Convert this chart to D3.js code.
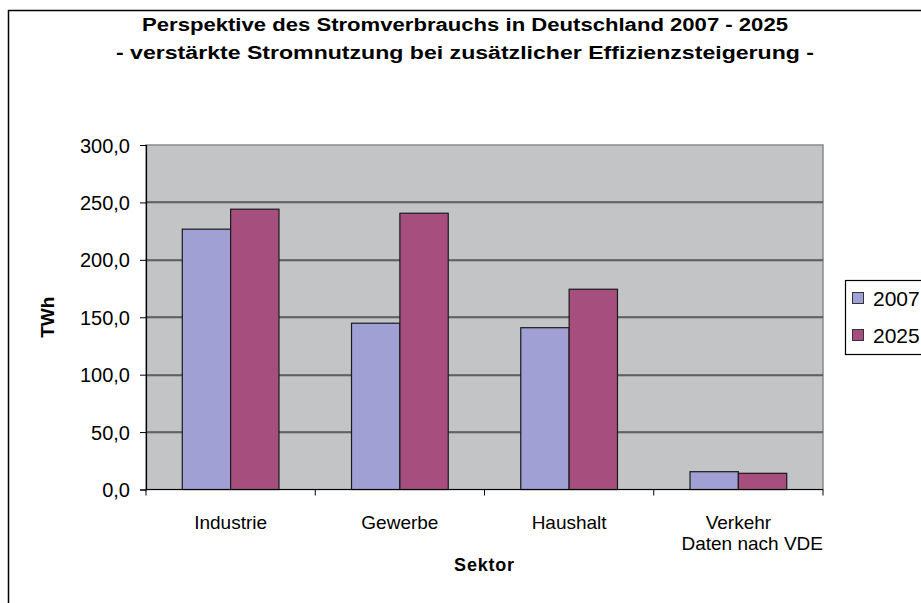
<!DOCTYPE html>
<html>
<head>
<meta charset="utf-8">
<script src="https://cdn.jsdelivr.net/npm/d3@7"></script>
<style>
  html, body { margin: 0; padding: 0; background: #fff; }
  svg { display: block; font-family: "Liberation Sans", Arial, sans-serif; }
</style>
</head>
<body>
<svg id="chart" width="921" height="603"></svg>
<script>
const categories = ["Industrie", "Gewerbe", "Haushalt", "Verkehr"];
const seriesNames = ["2007", "2025"];
const values2007 = [226.7, 144.8, 140.9, 15.5];
const values2025 = [244.1, 240.6, 174.4, 14.1];
const yTicks = [0, 50, 100, 150, 200, 250, 300];
const titleLines = [
  "Perspektive des Stromverbrauchs in Deutschland 2007 - 2025",
  "- verstärkte Stromnutzung bei zusätzlicher Effizienzsteigerung -"
];
const colors = ["#A0A0D4", "#A64F7F"];

const svg = d3.select("#chart");
const plot = { left: 146, right: 823, top: 145, bottom: 489.5 };

// outer frame
svg.append("rect").attr("x", 8.5).attr("y", 10.5).attr("width", 930).attr("height", 610)
  .attr("fill", "#fff").attr("stroke", "#000").attr("stroke-width", 1.5);

// title
svg.selectAll("text.title").data(titleLines).join("text")
  .attr("class", "title")
  .attr("x", 465).attr("y", (d, i) => 31 + i * 28)
  .attr("text-anchor", "middle")
  .attr("font-size", 18).attr("font-weight", "bold")
  .attr("textLength", (d, i) => i === 0 ? 646 : 698)
  .attr("lengthAdjust", "spacingAndGlyphs")
  .text(d => d);

const x0 = d3.scaleBand().domain(categories).range([plot.left, plot.right]).paddingInner(0).paddingOuter(0);
const x1 = d3.scaleBand().domain(seriesNames).range([0, x0.bandwidth()]).paddingInner(0).paddingOuter(0.75);
const y = d3.scaleLinear().domain([0, 300]).range([plot.bottom, plot.top]);

// plot background
svg.append("rect").attr("x", plot.left).attr("y", plot.top)
  .attr("width", plot.right - plot.left).attr("height", plot.bottom - plot.top)
  .attr("fill", "#C3C4C6").attr("stroke", "#8a8a8a").attr("stroke-width", 1.5);

// gridlines
const grid = svg.append("g");
const inner = yTicks.filter(t => t > 0 && t < 300);
grid.selectAll("line.sh").data(inner).join("line")
  .attr("class", "sh")
  .attr("x1", plot.left).attr("x2", plot.right)
  .attr("y1", d => Math.round(y(d)) + 1).attr("y2", d => Math.round(y(d)) + 1)
  .attr("stroke", "#8c8c8c").attr("stroke-width", 1);
grid.selectAll("line.g").data(inner).join("line")
  .attr("class", "g")
  .attr("x1", plot.left).attr("x2", plot.right)
  .attr("y1", d => Math.round(y(d))).attr("y2", d => Math.round(y(d)))
  .attr("stroke", "#1a1a1a").attr("stroke-width", 1.2);

// bars
const rows = categories.map((c, i) => ({ cat: c, vals: [values2007[i], values2025[i]] }));
const groups = svg.append("g").selectAll("g").data(rows).join("g")
  .attr("transform", d => `translate(${x0(d.cat)},0)`);
groups.selectAll("rect").data(d => d.vals.map((v, j) => ({ key: seriesNames[j], v, j })))
  .join("rect")
  .attr("x", d => x1(d.key)).attr("width", x1.bandwidth())
  .attr("y", d => y(d.v)).attr("height", d => y(0) - y(d.v))
  .attr("fill", d => colors[d.j]).attr("stroke", "#1a1a1a").attr("stroke-width", 1.2);

// y axis
const yAxis = d3.axisLeft(y).tickValues(yTicks).tickSize(6)
  .tickFormat(d => d3.format(".1f")(d).replace(".", ","));
const ya = svg.append("g").attr("transform", `translate(${plot.left},0)`).call(yAxis);
ya.select(".domain").attr("stroke", "#000").attr("stroke-width", 1.2);
ya.selectAll(".tick line").attr("stroke", "#000");
ya.selectAll(".tick text").attr("font-size", 20).attr("fill", "#000")
  .attr("font-family", "Liberation Sans, Arial, sans-serif").attr("x", -16).attr("dy", "0.35em");

// x axis
const xa = svg.append("g").attr("transform", `translate(0,${plot.bottom})`);
xa.append("line").attr("x1", plot.left).attr("x2", plot.right).attr("y1", 0).attr("y2", 0)
  .attr("stroke", "#000").attr("stroke-width", 1.2);
const bounds = categories.map(c => x0(c)).concat([x0(categories[categories.length - 1]) + x0.bandwidth()]);
xa.selectAll("line.t").data(bounds).join("line")
  .attr("class", "t")
  .attr("x1", d => d).attr("x2", d => d).attr("y1", 0).attr("y2", 6)
  .attr("stroke", "#000");
xa.selectAll("text").data(categories).join("text")
  .attr("x", d => x0(d) + x0.bandwidth() / 2).attr("y", 39)
  .attr("text-anchor", "middle").attr("font-size", 19)
  .text(d => d);

// note
svg.append("text").attr("x", 823).attr("y", 550).attr("text-anchor", "end")
  .attr("font-size", 19).text("Daten nach VDE");

// axis titles
svg.append("text").attr("x", (plot.left + plot.right) / 2).attr("y", 571)
  .attr("text-anchor", "middle").attr("font-size", 18).attr("font-weight", "bold")
  .attr("letter-spacing", 0.8).text("Sektor");
svg.append("text").attr("transform", `translate(54,${(plot.top + plot.bottom) / 2}) rotate(-90)`)
  .attr("text-anchor", "middle").attr("font-size", 19).attr("font-weight", "bold")
  .text("TWh");

// legend
const lg = svg.append("g");
lg.append("rect").attr("x", 845.5).attr("y", 280.5).attr("width", 100).attr("height", 74)
  .attr("fill", "#fff").attr("stroke", "#000").attr("stroke-width", 1.2);
const items = lg.selectAll("g").data(seriesNames).join("g")
  .attr("transform", (d, i) => `translate(852,${298 + i * 37})`);
items.append("rect").attr("x", 0.5).attr("y", -5.5).attr("width", 11).attr("height", 11)
  .attr("fill", (d, i) => colors[i]).attr("stroke", "#333").attr("stroke-width", 1);
items.append("text").attr("x", 21).attr("y", 0).attr("dy", "0.36em")
  .attr("font-size", 21).text(d => d);
</script>
</body>
</html>
